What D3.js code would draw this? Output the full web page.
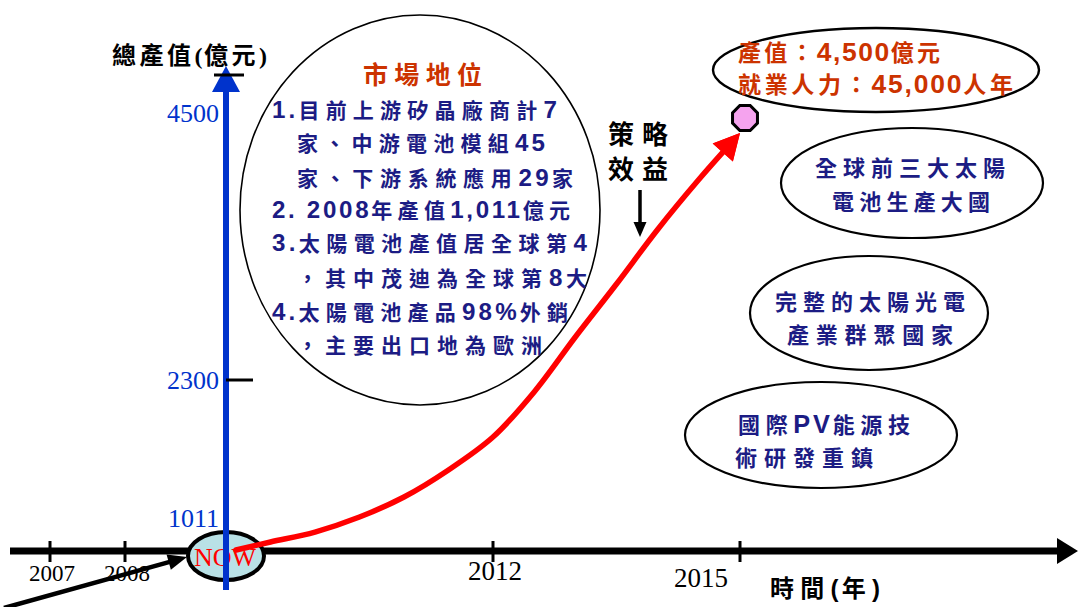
<!DOCTYPE html>
<html><head><meta charset="utf-8">
<script src="https://cdn.jsdelivr.net/npm/d3@7"></script>
<style>html,body{margin:0;padding:0;background:#fff;} svg{display:block}</style>
</head><body>
<svg id="c" width="1078" height="607"></svg>
<script>
// ---------------- data ----------------
const yearTicks = [2007, 2008, 2012, 2015];
const nowYear = 2009;
const valueTicks = [1011, 2300, 4500];
const growthYears  = [2009, 2009.5, 2010, 2010.5, 2011, 2011.5, 2012, 2012.5, 2013, 2013.5, 2014, 2014.5, 2015];
const growthValues = [1011, 1079, 1154, 1267, 1418, 1622, 1870, 2210, 2661, 3106, 3564, 3983, 4374];
const targetYear = 2015;
const targetValue = 4500;
const yAxisTitle = "總產值(億元)";
const xAxisTitle = "時間(年)";
const nowLabel = "NOW";
const marketTitle = "市場地位";
const marketLines = [
  "1.目前上游矽晶廠商計7",
  "家、中游電池模組45",
  "家、下游系統應用29家",
  "2. 2008年產值1,011億元",
  "3.太陽電池產值居全球第4",
  "，其中茂迪為全球第8大",
  "4.太陽電池產品98%外銷",
  "，主要出口地為歐洲"
];
const targetLines = ["產值：4,500億元", "就業人力：45,000人年"];
const strategyLines = ["策略", "效益"];
const bubbleTexts = [
  ["全球前三大太陽", "電池生產大國"],
  ["完整的太陽光電", "產業群聚國家"],
  ["國際PV能源技", "術研發重鎮"]
];

// ---------------- layout ----------------
const W = 1078, H = 607;
const svg = d3.select("#c");
const BLUE = "#0033cc", NAVY = "#1c1c84", ORANGE = "#cc3300", RED = "#ff0000";
const CJK = "'Liberation Sans','Noto Sans CJK TC',sans-serif";
const SERIF = "'Liberation Serif','Noto Sans CJK TC',serif";

const x = d3.scaleLinear().domain([2007, 2008, nowYear, 2012, 2015]).range([50, 125, 226, 493, 740]);
const y = d3.scaleLinear().domain(valueTicks).range([551, 380, 118]);

const axisY = y(valueTicks[0]);
const axisX = x(nowYear);
const isWide = ch => /[\u2E80-\u9FFF\uF900-\uFAFF\uFF00-\uFFEF\u3000-\u303F]/.test(ch);

// Text with tracking: wide (CJK) glyphs get full tracking, Latin glyphs
// are set a little larger with half tracking, so each line spans its width.
function txt(g, s, o) {
  const t = g.append("text")
    .attr("x", o.x).attr("y", o.y + 0.36 * o.size)
    .attr("font-family", o.family || CJK)
    .attr("font-size", o.size)
    .attr("font-weight", o.weight || "bold")
    .attr("fill", o.color || "#000")
    .attr("text-anchor", o.anchor || "start");
  if (!o.len) { t.text(s); return t; }
  const latinScale = o.latinScale || 1.15;
  const runs = [];
  for (const ch of s) {
    const w = isWide(ch);
    if (runs.length && runs[runs.length - 1].w === w) runs[runs.length - 1].s += ch;
    else runs.push({w, s: ch});
  }
  const spans = runs.map(r => {
    const el = t.append("tspan").text(r.s);
    if (!r.w) el.attr("font-size", o.size * latinScale);
    return {r, el};
  });
  const natural = t.node().getComputedTextLength();
  const chars = [...s];
  const nWide = chars.filter(isWide).length;
  const nLatin = chars.length - nWide;
  const lastW = isWide(chars[chars.length - 1]) ? 1 : 0.5;
  const denom = Math.max(0.5, nWide + 0.5 * nLatin - lastW);
  const a = (o.len - natural) / denom;
  spans.forEach(({r, el}) => el.attr("letter-spacing", r.w ? a : a * 0.5));
  return t;
}

function arrowHead(g, tip, from, L, hw, color) {
  const dx = tip[0] - from[0], dy = tip[1] - from[1];
  const d = Math.hypot(dx, dy), ux = dx / d, uy = dy / d;
  const bx = tip[0] - ux * L, by = tip[1] - uy * L;
  g.append("path")
    .attr("d", d3.line()([tip, [bx - uy * hw, by + ux * hw], [bx + uy * hw, by - ux * hw]]) + "Z")
    .attr("fill", color);
  return [tip[0] - ux * L * 0.6, tip[1] - uy * L * 0.6];
}

const g = svg.append("g");

// ---- ellipses ----
const ell = (cx, cy, rx, ry, sw) => g.append("ellipse")
  .attr("cx", cx).attr("cy", cy).attr("rx", rx).attr("ry", ry)
  .attr("fill", "none").attr("stroke", "#000").attr("stroke-width", sw);
ell(420, 210, 180, 195, 1.6);
ell(876, 70, 163, 42, 2.4);
ell(912, 183, 131, 55, 2.2);
ell(869, 313, 119, 57, 2.2);
ell(821, 435, 136, 53, 2.2);

// ---- x axis ----
const xEnd = arrowHead(g, [W, axisY], [0, axisY], 21, 13, "#000");
g.append("line").attr("x1", 10).attr("x2", xEnd[0]).attr("y1", axisY).attr("y2", axisY)
  .attr("stroke", "#000").attr("stroke-width", 7);
g.selectAll(".xt").data(yearTicks).join("line")
  .attr("x1", d => x(d)).attr("x2", d => x(d))
  .attr("y1", axisY - 10).attr("y2", axisY + 11)
  .attr("stroke", "#000").attr("stroke-width", 3);
yearTicks.forEach(d => {
  const early = d < nowYear;
  const last = d === yearTicks[yearTicks.length - 1];
  txt(g, String(d), {
    x: last ? x(d) - 12 : x(d) + 2,
    y: early ? axisY + 22 : (last ? axisY + 26 : axisY + 19),
    size: early ? 23 : 27, family: SERIF, weight: "normal",
    anchor: last ? "end" : "middle"
  });
});
txt(g, xAxisTitle, {x: 770, y: 588, size: 24, len: 110, latinScale: 1});

// ---- NOW bubble ----
g.append("ellipse").attr("cx", axisX).attr("cy", axisY + 5).attr("rx", 38).attr("ry", 24)
  .attr("fill", "#b9e1e6").attr("stroke", "#000").attr("stroke-width", 4);
txt(g, nowLabel, {x: axisX - 1, y: axisY + 6, size: 26, family: SERIF, weight: "normal", color: RED, anchor: "middle"});

// ---- y axis ----
const yTop = 66;
g.append("line").attr("x1", axisX).attr("x2", axisX).attr("y1", 590).attr("y2", yTop + 20)
  .attr("stroke", BLUE).attr("stroke-width", 6);
arrowHead(g, [axisX, yTop], [axisX, 590], 26, 14, BLUE);
g.append("line").attr("x1", axisX - 12).attr("x2", axisX + 18).attr("y1", yTop + 9).attr("y2", yTop + 9)
  .attr("stroke", "#000").attr("stroke-width", 3);
g.append("line").attr("x1", axisX).attr("x2", axisX + 27).attr("y1", y(2300)).attr("y2", y(2300))
  .attr("stroke", "#000").attr("stroke-width", 3);
valueTicks.forEach((v, i) => {
  txt(g, String(v), {x: axisX - 7, y: y(v) - (i === 0 ? 33 : (i === 2 ? 5 : 0)), size: 26,
    family: SERIF, weight: "normal", color: BLUE, anchor: "end"});
});
txt(g, yAxisTitle, {x: 112, y: 55, size: 24, family: SERIF, len: 155, latinScale: 1});

// ---- growth curve ----
const pts = growthYears.map((yr, i) => [x(yr), y(growthValues[i])]);
const tip = pts[pts.length - 1];
const lineEnd = arrowHead(g, tip, pts[pts.length - 2], 26, 13.5, RED);
const linePts = pts.slice(0, -1).concat([lineEnd]);
linePts[0] = [linePts[0][0] + 10, linePts[0][1] - 1];
g.append("path").attr("d", d3.line().curve(d3.curveCatmullRom.alpha(0.5))(linePts))
  .attr("fill", "none").attr("stroke", RED).attr("stroke-width", 5.5).attr("stroke-linecap", "round");
arrowHead(g, tip, pts[pts.length - 2], 26, 13.5, RED);

// target octagon
const oc = [x(targetYear) + 5, y(targetValue)];
const oct = d3.range(8).map(i => {
  const a = (i * 45 + 22.5) * Math.PI / 180;
  return [oc[0] + 13.5 * Math.cos(a), oc[1] + 13.5 * Math.sin(a)];
});
g.append("path").attr("d", d3.line()(oct) + "Z")
  .attr("fill", "#f5a3ee").attr("stroke", "#000").attr("stroke-width", 3);

// ---- pointer arrow at bottom-left ----
const pTip = [187, 557], pFrom = [4, 608];
const pEnd = arrowHead(g, pTip, pFrom, 19, 8, "#000");
g.append("line").attr("x1", pFrom[0]).attr("y1", pFrom[1]).attr("x2", pEnd[0]).attr("y2", pEnd[1])
  .attr("stroke", "#000").attr("stroke-width", 4.5);

// ---- market position text ----
txt(g, marketTitle, {x: 363, y: 75, size: 25, color: ORANGE, len: 119});
const mLayout = [[272, 557, 110], [297, 545, 143], [297, 573, 178], [272, 570, 210],
                 [272, 587, 243], [297, 587, 278], [272, 568, 312], [297, 542, 345]];
marketLines.forEach((s, i) => {
  const [l, r, yc] = mLayout[i];
  txt(g, s, {x: l, y: yc, size: 21, color: NAVY, len: r - l});
});

// ---- target text ----
const tLayout = [[738, 940, 53], [738, 1013, 85]];
targetLines.forEach((s, i) => {
  const [l, r, yc] = tLayout[i];
  txt(g, s, {x: l, y: yc, size: 23, color: ORANGE, len: r - l});
});

// ---- strategy ----
strategyLines.forEach((s, i) => txt(g, s, {x: 608, y: 135 + i * 35, size: 26, len: 60}));
const sEnd = arrowHead(g, [640, 237], [640, 190], 15, 6.5, "#000");
g.append("line").attr("x1", 640).attr("x2", 640).attr("y1", 190).attr("y2", sEnd[1])
  .attr("stroke", "#000").attr("stroke-width", 3.5);

// ---- bubbles ----
const bLayout = [
  [[815, 1005, 168], [832, 990, 202]],
  [[775, 965, 302], [787, 953, 335]],
  [[738, 910, 425], [735, 873, 458]]
];
bubbleTexts.forEach((lines, b) => lines.forEach((s, i) => {
  const [l, r, yc] = bLayout[b][i];
  txt(g, s, {x: l, y: yc, size: 22, color: NAVY, len: r - l});
}));
</script>
</body></html>
